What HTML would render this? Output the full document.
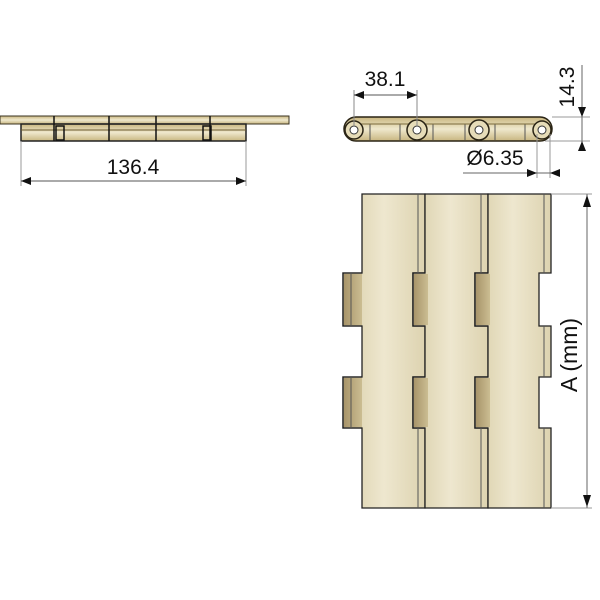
<!DOCTYPE html>
<html><head><meta charset="utf-8"><style>
html,body{margin:0;padding:0;background:#fff;width:600px;height:600px;overflow:hidden}
text{font-family:"Liberation Sans",sans-serif;fill:#111}
</style></head><body>
<svg width="600" height="600" viewBox="0 0 600 600" xmlns="http://www.w3.org/2000/svg">
<defs>
<linearGradient id="pl" x1="0" x2="1" y1="0" y2="0">
<stop offset="0" stop-color="#d9cfa9"/><stop offset="0.5" stop-color="#eee7cf"/><stop offset="1" stop-color="#ddd3b0"/>
</linearGradient>
<linearGradient id="tab" x1="0" x2="1"><stop offset="0" stop-color="#a8956a"/><stop offset="1" stop-color="#cbbd92"/></linearGradient>
<linearGradient id="sv" x1="0" x2="0" y1="0" y2="1"><stop offset="0" stop-color="#c9b67f"/><stop offset="0.5" stop-color="#efe8cd"/><stop offset="1" stop-color="#c8b680"/></linearGradient>
</defs>

<!-- Top-left side view -->
<rect x="0" y="116" width="289" height="8" fill="url(#sv)" stroke="#3a3320" stroke-width="1"/>
<rect x="21" y="124" width="225" height="17" fill="url(#sv)" stroke="#222" stroke-width="1.5"/>
<line x1="21" y1="130" x2="246" y2="130" stroke="#6b5b30" stroke-width="1"/>
<g stroke="#111" stroke-width="1.5">
<line x1="54" y1="116" x2="54" y2="141"/><line x1="109" y1="116" x2="109" y2="141"/>
<line x1="156" y1="116" x2="156" y2="141"/><line x1="210" y1="116" x2="210" y2="141"/>
<rect x="56" y="126" width="8" height="14" fill="none"/><rect x="203" y="126" width="8" height="14" fill="none"/>
</g>
<line x1="55" y1="124" x2="210" y2="124" stroke="#222" stroke-width="1.2"/>
<g stroke="#999" stroke-width="1"><line x1="21" y1="141" x2="21" y2="186"/><line x1="246" y1="141" x2="246" y2="186"/></g>
<line x1="21" y1="181" x2="246" y2="181" stroke="#555" stroke-width="1"/>
<polygon points="21,181 31,177 31,185" fill="#111"/><polygon points="246,181 236,177 236,185" fill="#111"/>
<text x="133" y="174" font-size="21" text-anchor="middle">136.4</text>

<!-- Top-right chain end view -->
<rect x="344" y="117" width="208" height="24" rx="12" fill="url(#sv)" stroke="#2a2415" stroke-width="1.5"/>
<g stroke="#555" stroke-width="1"><line x1="370" y1="124" x2="370" y2="140"/><line x1="400" y1="124" x2="400" y2="140"/><line x1="433" y1="124" x2="433" y2="140"/><line x1="465" y1="124" x2="465" y2="140"/><line x1="495" y1="124" x2="495" y2="140"/><line x1="525" y1="124" x2="525" y2="140"/></g>
<line x1="350" y1="124" x2="545" y2="124" stroke="#7a6a3a" stroke-width="1"/>
<g fill="#e6dcb8" stroke="#2a2415" stroke-width="1.5">
<circle cx="354" cy="130" r="9"/><circle cx="417" cy="130" r="10"/><circle cx="479" cy="130" r="10"/><circle cx="542" cy="130" r="9"/>
</g>
<g fill="#fff" stroke="#333" stroke-width="1">
<circle cx="354" cy="130" r="4"/><circle cx="417" cy="130" r="4"/><circle cx="479" cy="130" r="4"/><circle cx="542" cy="130" r="4"/>
</g>
<g stroke="#888" stroke-width="1"><line x1="354" y1="90" x2="354" y2="126"/><line x1="417" y1="90" x2="417" y2="126"/></g>
<line x1="354" y1="95" x2="417" y2="95" stroke="#555"/>
<polygon points="354,95 364,91 364,99" fill="#111"/><polygon points="417,95 407,91 407,99" fill="#111"/>
<text x="385" y="86" font-size="21" text-anchor="middle">38.1</text>

<g stroke="#999" stroke-width="1"><line x1="552" y1="117" x2="590" y2="117"/><line x1="545" y1="141" x2="590" y2="141"/>
<line x1="537" y1="134" x2="537" y2="178"/><line x1="550" y1="134" x2="550" y2="178"/></g>
<line x1="582" y1="65" x2="582" y2="150" stroke="#666"/>
<polygon points="582,117 578,107 586,107" fill="#111"/><polygon points="582,141 578,151 586,151" fill="#111"/>
<text x="574" y="87" font-size="21" text-anchor="middle" transform="rotate(-90 574 87)">14.3</text>
<line x1="463" y1="173" x2="560" y2="173" stroke="#666"/>
<polygon points="537,173 527,169 527,177" fill="#111"/><polygon points="550,173 560,169 560,177" fill="#111"/>
<text x="495" y="165" font-size="21" text-anchor="middle">Ø6.35</text>

<!-- Plates -->
<g stroke="#222" stroke-width="1.3">
<path d="M362,194 H425 V273 H413 V326 H425 V377 H413 V428 H425 V508 H362 V428 H343 V377 H362 V326 H343 V273 H362 Z" fill="url(#pl)"/>
<path d="M425,194 H488 V273 H475 V326 H488 V377 H475 V428 H488 V508 H425 V428 H413 V377 H425 V326 H413 V273 H425 Z" fill="url(#pl)"/>
<path d="M488,194 H551 V273 H539 V326 H551 V377 H539 V428 H551 V508 H488 V428 H475 V377 H488 V326 H475 V273 H488 Z" fill="url(#pl)"/>
</g>
<g fill="url(#tab)" stroke="none">
<rect x="344" y="274" width="18" height="51"/><rect x="344" y="378" width="18" height="49"/>
<rect x="414" y="274" width="14" height="51"/><rect x="414" y="378" width="14" height="49"/>
<rect x="476" y="274" width="14" height="51"/><rect x="476" y="378" width="14" height="49"/>
</g>
<g stroke="#222" stroke-width="1.3" fill="none">
<path d="M362,273 H343 V326 H362 M362,377 H343 V428 H362"/>
<path d="M425,273 H413 V326 H425 M425,377 H413 V428 H425"/>
<path d="M488,273 H475 V326 H488 M488,377 H475 V428 H488"/>
</g>
<g stroke="#555" stroke-width="1" fill="none">
<line x1="351" y1="273" x2="351" y2="326"/><line x1="351" y1="377" x2="351" y2="428"/>
<path d="M418,194 V273 M418,428 V508"/>
<path d="M481,194 V273 M481,428 V508"/>
<path d="M544,194 V273 M544,326 V377 M544,428 V508"/>
</g>
<g stroke="#999" stroke-width="1"><line x1="551" y1="194" x2="592" y2="194"/><line x1="551" y1="508" x2="592" y2="508"/></g>
<line x1="587" y1="194" x2="587" y2="508" stroke="#666"/>
<polygon points="587,195 583,207 591,207" fill="#111"/><polygon points="587,507 583,495 591,495" fill="#111"/>
<text x="577" y="355" font-size="23" text-anchor="middle" transform="rotate(-90 577 355)">A (mm)</text>
</svg>
</body></html>
